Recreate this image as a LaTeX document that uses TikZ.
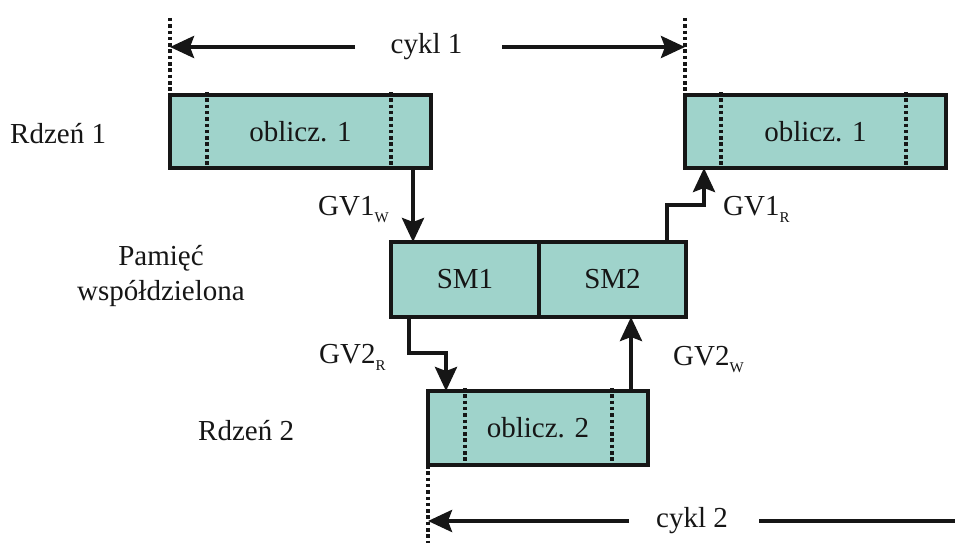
\documentclass[tikz,border=0pt]{standalone}
\usepackage{fontspec}
\setmainfont{LiberationSerif}[Extension=.ttf, UprightFont=*-Regular]
\usetikzlibrary{arrows.meta}
\definecolor{boxfill}{RGB}{159,211,203}
\definecolor{ink}{RGB}{22,22,22}
\newcommand\sublab[1]{\raisebox{-7pt}{\fontsize{15}{15}\selectfont #1}}
\begin{document}
\begin{tikzpicture}[x=1pt,y=-1pt,
  every node/.style={font=\fontsize{29}{35}\selectfont, text=ink},
  blk/.style={draw=ink, line width=3.5pt, fill=boxfill, inner sep=0pt,
    outer sep=0pt, minimum height=#1},
  blk/.default=73pt,
  dotline/.style={draw=ink, line width=3.5pt, dash pattern=on 3.5pt off 2.8pt},
  arr/.style={draw=ink, line width=4pt,
    -{Stealth[length=24pt,width=22pt,inset=4pt]}},
  plain/.style={draw=ink, line width=4pt},
  lab/.style={inner sep=0pt}]
\useasboundingbox (0,0) rectangle (969,543);

% time slots of core 1 and core 2
\node[blk, minimum width=261pt] (b1a) at (300.5,131.5) {oblicz. 1};
\node[blk, minimum width=261pt] (b1b) at (815.5,131.5) {oblicz. 1};
\node[blk=74pt, minimum width=220pt] (b2) at (538,428) {oblicz. 2};

% shared memory split into two halves
\node[blk=75pt, minimum width=148pt] (sm1) at (465,279.5) {SM1};
\node[blk=75pt, minimum width=147pt] (sm2) at (612.5,279.5) {SM2};

% dotted phase markers inside the slots
\coordinate (d1) at (207,0);  \coordinate (d2) at (391,0);
\coordinate (d3) at (721,0);  \coordinate (d4) at (906,0);
\coordinate (d5) at (465,0);  \coordinate (d6) at (612,0);
\draw[dotline] ([yshift=3pt]b1a.north -| d1) -- (b1a.south -| d1);
\draw[dotline] ([yshift=3pt]b1a.north -| d2) -- (b1a.south -| d2);
\draw[dotline] ([yshift=3pt]b1b.north -| d3) -- (b1b.south -| d3);
\draw[dotline] ([yshift=3pt]b1b.north -| d4) -- (b1b.south -| d4);
\draw[dotline] ([yshift=3pt]b2.north -| d5) -- (b2.south -| d5);
\draw[dotline] ([yshift=3pt]b2.north -| d6) -- (b2.south -| d6);

% cycle boundaries
\coordinate (t1) at (170,18);
\coordinate (t2) at (685,18);
\coordinate (t3) at (428,543);
\draw[dotline] (t1) -- (b1a.north -| t1);
\draw[dotline] (t2) -- (b1b.north -| t2);
\draw[dotline] (b2.south -| t3) -- (t3);

% cycle 1
\node[lab, anchor=base] (c1) at (426.5,54) {cykl 1};
\coordinate (c1l) at (355,47);
\coordinate (c1r) at (502,47);
\draw[arr] (c1l) -- (c1l -| t1);
\draw[arr] (c1r) -- (c1r -| t2);

% cycle 2
\node[lab, anchor=base] (c2) at (692,527) {cykl 2};
\coordinate (c2l) at (629,521);
\coordinate (c2r) at (759,521);
\coordinate (c2e) at (955,521);
\draw[arr] (c2l) -- (c2l -| t3);
\draw[plain] (c2r) -- (c2e);

% data exchange through shared memory
\coordinate (g1) at (413,0);
\draw[arr] (b1a.south -| g1) -- (sm1.north -| g1);

\coordinate (g2a) at (667,205);
\coordinate (g2b) at (704,205);
\draw[arr] (sm2.north -| g2a) -- (g2a) -- (g2b) -- (b1b.south -| g2b);

\coordinate (g3a) at (409,353);
\coordinate (g3b) at (446,353);
\draw[arr] (sm1.south -| g3a) -- (g3a) -- (g3b) -- (b2.north -| g3b);

\coordinate (g4) at (631,0);
\draw[arr] (b2.north -| g4) -- (sm2.south -| g4);

% labels
\node[lab, anchor=base west] (l1) at (318,215) {GV1\sublab{W}};
\node[lab, anchor=base west] (l2) at (723,215) {GV1\sublab{R}};
\node[lab, anchor=base west] (l3) at (319,363) {GV2\sublab{R}};
\node[lab, anchor=base west] (l4) at (673,365) {GV2\sublab{W}};

\node[lab, anchor=base west] (r1) at (10,143) {Rdzeń 1};
\node[lab, anchor=base west] (r2) at (198,440) {Rdzeń 2};
\node[lab, anchor=base] (pm1) at (161,265) {Pamięć};
\node[lab, anchor=base] (pm2) at (161,300) {współdzielona};
\end{tikzpicture}
\end{document}
